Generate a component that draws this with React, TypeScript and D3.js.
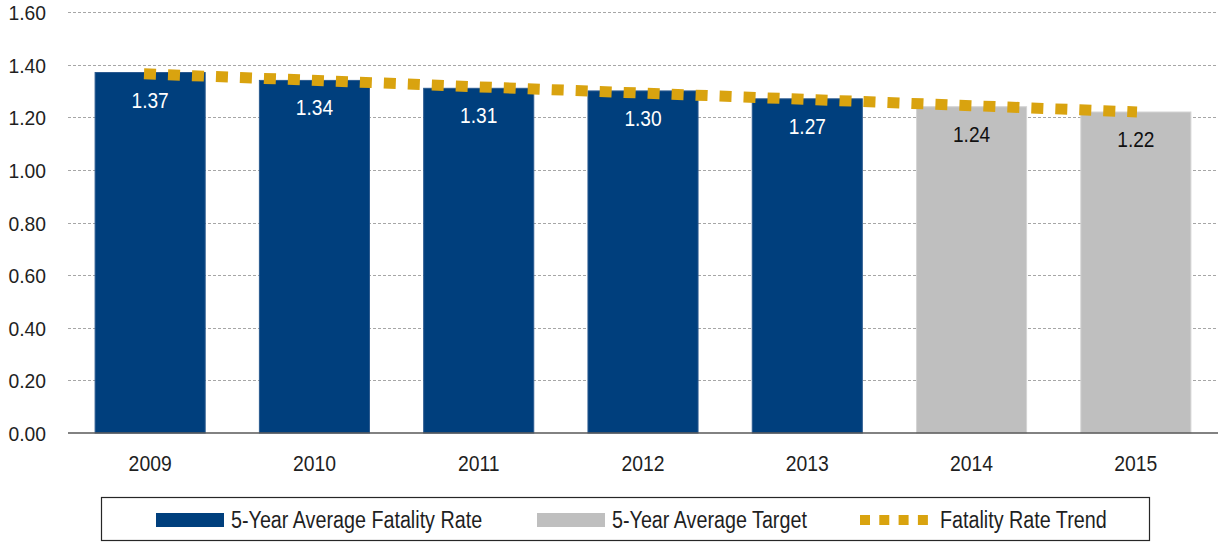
import { useEffect, useRef } from "react";
import * as d3 from "d3";

const years = ["2009", "2010", "2011", "2012", "2013", "2014", "2015"];
const rateValues = [1.37, 1.34, 1.31, 1.30, 1.27, 1.24, 1.22];
const isTarget = [false, false, false, false, false, true, true];
const trendValues = [1.365, 1.341, 1.316, 1.292, 1.268, 1.244, 1.22];
const yTicks = [0, 0.2, 0.4, 0.6, 0.8, 1.0, 1.2, 1.4, 1.6];
const legendLabels = ["5-Year Average Fatality Rate", "5-Year Average Target", "Fatality Rate Trend"];

const NAVY = "#003f7d";
const GRAY = "#bfbfbf";
const GOLD = "#d9a30f";
const FONT = "'Liberation Sans', Arial, sans-serif";

// Liberation Sans squeezed sideways so it looks like Arial Narrow
const narrow = (px: number, py: number, sx: number) => `translate(${px},${py}) scale(${sx},1)`;

const App = () => {
    const svgRef = useRef<SVGSVGElement>(null);

    useEffect(() => {
        const width = 1218;
        const height = 542;
        const svg = d3.select(svgRef.current)
            .attr("width", width)
            .attr("height", height)
            .style("font-family", FONT);

        svg.selectAll("*").remove();

        const x = d3.scaleBand()
            .domain(years)
            .range([68, 1218])
            .paddingInner(0.33)
            .paddingOuter(0.165);

        const y = d3.scaleLinear()
            .domain([0, 1.6])
            .range([433, 12]);

        const center = (i: number) => x(years[i])! + x.bandwidth() / 2;

        // grid lines
        svg.append("g")
            .selectAll("line")
            .data(yTicks.filter(t => t > 0))
            .join("line")
            .attr("x1", 68)
            .attr("x2", width)
            .attr("y1", d => Math.round(y(d)) + 0.5)
            .attr("y2", d => Math.round(y(d)) + 0.5)
            .attr("stroke", "#a6a6a6")
            .attr("stroke-dasharray", "3 2")
            .attr("stroke-width", 1);

        // y tick labels
        svg.append("g")
            .selectAll("text")
            .data(yTicks)
            .join("text")
            .attr("transform", d => narrow(46, y(d) + 8, 0.92))
            .attr("text-anchor", "end")
            .attr("font-size", 21)
            .attr("fill", "#1f1f1f")
            .text(d => d.toFixed(2));

        // bars
        svg.append("g")
            .selectAll("rect")
            .data(rateValues)
            .join("rect")
            .attr("x", (_, i) => x(years[i])!)
            .attr("y", d => y(d))
            .attr("width", x.bandwidth())
            .attr("height", d => y(0) - y(d))
            .attr("fill", (_, i) => isTarget[i] ? GRAY : NAVY)
            .attr("stroke", (_, i) => isTarget[i] ? "#d4d4d4" : "#2a5a8f")
            .attr("stroke-width", 1);

        // data labels
        svg.append("g")
            .selectAll("text")
            .data(rateValues)
            .join("text")
            .attr("transform", (d, i) => narrow(center(i), y(d) + 35, 0.85))
            .attr("text-anchor", "middle")
            .attr("font-size", 22.5)
            .attr("fill", (_, i) => isTarget[i] ? "#111" : "#fff")
            .text(d => d.toFixed(2));

        // baseline
        svg.append("line")
            .attr("x1", 68)
            .attr("x2", width)
            .attr("y1", y(0))
            .attr("y2", y(0))
            .attr("stroke", "#595959")
            .attr("stroke-width", 1.5);

        // x labels
        svg.append("g")
            .selectAll("text")
            .data(years)
            .join("text")
            .attr("transform", (_, i) => narrow(center(i), 471, 0.88))
            .attr("text-anchor", "middle")
            .attr("font-size", 22)
            .attr("fill", "#1f1f1f")
            .text(d => d);

        // trend line
        const tx = d3.scaleLinear().domain([0, years.length - 1]).range([144, 1137]);
        const line = d3.line<number>()
            .x((_, i) => tx(i))
            .y(d => y(d));
        svg.append("path")
            .datum(trendValues)
            .attr("d", line)
            .attr("fill", "none")
            .attr("stroke", GOLD)
            .attr("stroke-width", 11)
            .attr("stroke-dasharray", "12 12");

        // legend
        const lg = svg.append("g");
        lg.append("rect")
            .attr("x", 101.5)
            .attr("y", 497.5)
            .attr("width", 1048)
            .attr("height", 43)
            .attr("fill", "#fff")
            .attr("stroke", "#262626")
            .attr("stroke-width", 1.2);
        lg.append("rect")
            .attr("x", 156).attr("y", 513)
            .attr("width", 68).attr("height", 14)
            .attr("fill", NAVY);
        lg.append("rect")
            .attr("x", 537).attr("y", 513)
            .attr("width", 68).attr("height", 14)
            .attr("fill", GRAY);
        lg.append("line")
            .attr("x1", 860).attr("x2", 928)
            .attr("y1", 520).attr("y2", 520)
            .attr("stroke", GOLD)
            .attr("stroke-width", 10)
            .attr("stroke-dasharray", "10 9.3");
        const legendX = [231, 612, 940];
        lg.selectAll("text.lbl")
            .data(legendLabels)
            .join("text")
            .attr("class", "lbl")
            .attr("transform", (_, i) => narrow(legendX[i], 528, 0.84))
            .attr("font-size", 23.5)
            .attr("fill", "#1f1f1f")
            .text(d => d);
    }, []);

    return (
        <svg
            ref={svgRef}
            style={{ position: "absolute", left: 0, top: 0, background: "#fff" }}
        />
    );
};

export default App;
